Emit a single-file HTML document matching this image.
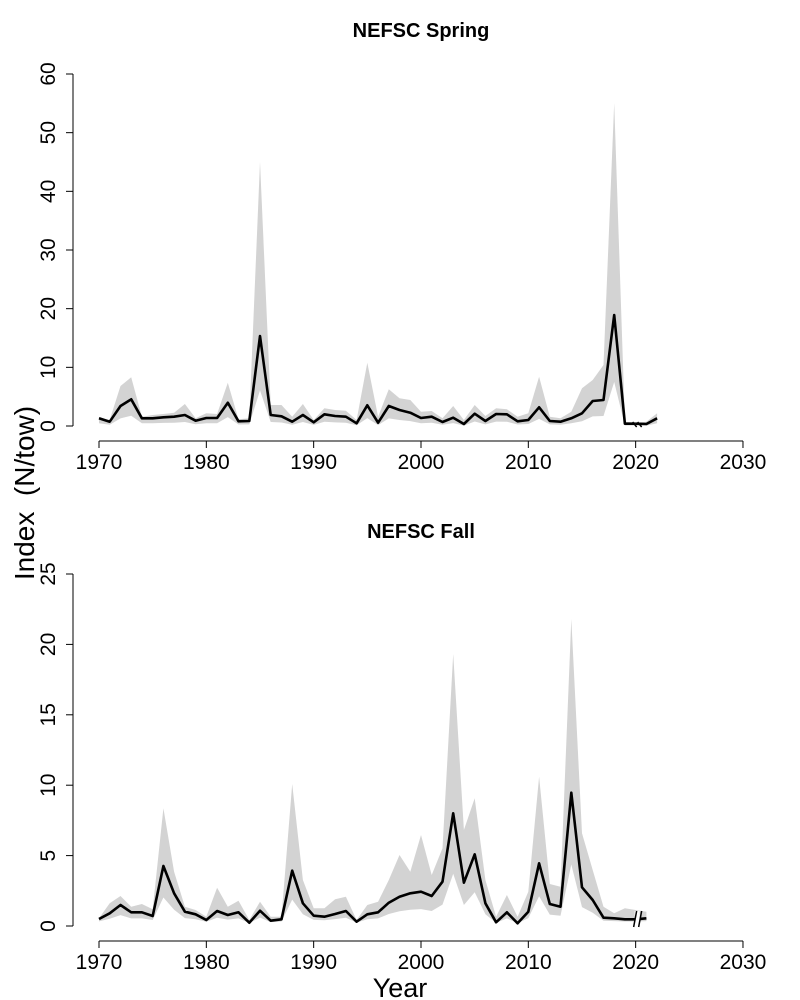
<!DOCTYPE html>
<html><head><meta charset="utf-8"><style>
body{margin:0;background:#fff}
svg{display:block;font-family:"Liberation Sans",Arial,sans-serif}
</style></head><body>
<svg id="s" width="800" height="1000" xmlns="http://www.w3.org/2000/svg">
<text x="421" y="37" font-size="20" font-weight="bold" text-anchor="middle">NEFSC Spring</text>
<text x="421" y="538" font-size="20" font-weight="bold" text-anchor="middle">NEFSC Fall</text>
<text transform="translate(34,493) rotate(-90)" font-size="28" text-anchor="middle" xml:space="preserve">Index  (N/tow)</text>
<text x="400" y="997" font-size="27" text-anchor="middle">Year</text>
<g id="g"></g>
</svg>
<script>
var NS="http://www.w3.org/2000/svg",g=document.getElementById('g');
function el(t,a,txt){var e=document.createElementNS(NS,t);for(var k in a)e.setAttribute(k,a[k]);if(txt!=null)e.textContent=txt;g.appendChild(e);return e;}
function X(yr){return 99+(yr-1970)*10.733;}
var tm=[355,365,318,298,355,355,352,350,345,362,354,354,308,364,363,108,345,349,365,345,367,343,348,350,370,316,368,318,330,338,354,350,366,353,372,341,363,342,343,364,360,322,363,365,355,340,303,300,45,371,371,372,355];
var tu=[355,360,258,232,350,345,342,338,312,355,340,342,248,358,355,-414,315,315,350,312,360,325,330,332,360,188,350,268,295,300,335,333,355,318,360,315,348,325,328,350,340,230,350,355,335,265,240,195,-591,365,368,365,340];
function tz(z){return 300+z/3;}
var bm=[477,460,435,457,457,468,318,400,455,463,480,453,465,457,488,452,482,478,332,430,467,470,462,453,485,463,457,428,410,400,395,408,365,160,368,283,430,487,457,490,455,310,432,440,98,382,420,473,475,478,478,475];
var bu=[475,430,408,440,432,448,145,335,440,450,470,383,440,422,480,425,470,470,72,360,445,445,418,410,480,435,425,360,285,335,225,345,265,-318,210,115,360,470,405,470,395,50,372,380,-423,220,330,440,460,445,450,455];
function bz(z){return 760+z/3;}
function panel(m,u,f,base,fr){
  var up=[],lo=[],n=m.length;
  for(var i=0;i<n;i++){var x=X(1970+i);up.push(x.toFixed(1)+','+f(u[i]).toFixed(1));
    var l=m[i]+fr*(base-m[i]);lo.unshift(x.toFixed(1)+','+f(Math.max(l,m[i])).toFixed(1));}
  el('polygon',{points:up.concat(lo).join(' '),fill:'#d3d3d3',stroke:'none'});
}
function line(m,f,from,to){var p=[];for(var i=from;i<=to;i++)p.push(X(1970+i).toFixed(1)+','+f(m[i]).toFixed(1));
  el('polyline',{points:p.join(' '),fill:'none',stroke:'#000','stroke-width':2.6,'stroke-linejoin':'round'});}
panel(tm,tu,tz,380,0.6);
line(tm,tz,0,50);line(tm,tz,50,52);
panel(bm,bu,bz,490,0.55);
line(bm,bz,0,51);
el('line',{x1:X(2020)-3,y1:422,x2:X(2020)+1,y2:427,stroke:'#000','stroke-width':1.5});
el('line',{x1:X(2020)+2,y1:422,x2:X(2020)+6,y2:427,stroke:'#000','stroke-width':1.5});
el('rect',{x:X(2020)-1,y:911,width:5,height:16,fill:'#fff'});
el('line',{x1:X(2020)-2,y1:927,x2:X(2020)+1,y2:911,stroke:'#000','stroke-width':1.5});
el('line',{x1:X(2020)+3,y1:927,x2:X(2020)+6,y2:911,stroke:'#000','stroke-width':1.5});
function axes(y0,yTop,vals,xa){
  var ax=73;
  el('line',{x1:ax,y1:y0,x2:ax,y2:yTop,stroke:'#000','stroke-width':1});
  for(var i=0;i<vals.length;i++){var y=y0+(yTop-y0)*i/(vals.length-1);
    el('line',{x1:66,y1:y,x2:ax,y2:y,stroke:'#000'});
    el('text',{transform:'translate(55,'+y+') rotate(-90)','font-size':21,'text-anchor':'middle'},vals[i]);}
  el('line',{x1:99,y1:xa,x2:743,y2:xa,stroke:'#000'});
  for(var yr=1970;yr<=2030;yr+=10){var x=X(yr);el('line',{x1:x,y1:xa,x2:x,y2:xa+7,stroke:'#000'});
    el('text',{x:x,y:xa+28,'font-size':21,'text-anchor':'middle'},yr);}
}
axes(426,74,['0','10','20','30','40','50','60'],441);
axes(926,574,['0','5','10','15','20','25'],941);
</script>
</body></html>
